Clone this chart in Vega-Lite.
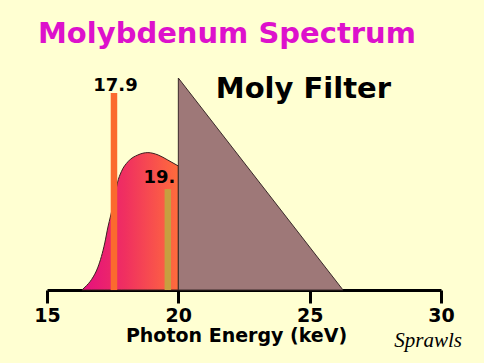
{
  "$schema": "https://vega.github.io/schema/vega-lite/v6.json",
  "width": 394,
  "height": 212,
  "autosize": "none",
  "padding": {"left": 47, "top": 78, "right": 43, "bottom": 73},
  "background": "#FFFFD2",
  "title": {
    "text": "Molybdenum Spectrum",
    "font": "DejaVu Sans",
    "fontWeight": "bold",
    "fontSize": 29,
    "color": "#DD11CC",
    "anchor": "start",
    "frame": "group",
    "dx": -9,
    "offset": 3,
    "baseline": "alphabetic"
  },
  "config": {"view": {"stroke": null}},
  "datasets": {
    "spectrum": [
      {"energy": 16.33, "intensity": 0},
      {"energy": 16.45, "intensity": 1.4},
      {"energy": 16.7, "intensity": 5},
      {"energy": 16.94, "intensity": 10.8},
      {"energy": 17.2, "intensity": 22.2},
      {"energy": 17.32, "intensity": 29.7},
      {"energy": 17.42, "intensity": 34.9},
      {"energy": 17.55, "intensity": 42},
      {"energy": 17.68, "intensity": 50.5},
      {"energy": 17.83, "intensity": 55.8},
      {"energy": 18.08, "intensity": 60.5},
      {"energy": 18.46, "intensity": 63.7},
      {"energy": 18.84, "intensity": 64.8},
      {"energy": 19.23, "intensity": 63.7},
      {"energy": 19.6, "intensity": 61.3},
      {"energy": 20.0, "intensity": 58.5}
    ],
    "filter": [
      {"energy": 20, "intensity": 100, "label": "Moly Filter"},
      {"energy": 26.27, "intensity": 0, "label": "Moly Filter"}
    ],
    "lines": [
      {"energy": 17.55, "intensity": 92.9, "label": "17.9"},
      {"energy": 19.6, "intensity": 47.6, "label": "19."}
    ],
    "credit": [
      {"energy": 30, "intensity": 0, "credit": "Sprawls"}
    ]
  },
  "encoding": {
    "x": {
      "field": "energy",
      "type": "quantitative",
      "scale": {"domain": [15, 30], "nice": false, "zero": false},
      "axis": {
        "title": "Photon Energy (keV)",
        "values": [15, 20, 25, 30],
        "grid": false,
        "domainColor": "#000000",
        "domainWidth": 3,
        "tickColor": "#000000",
        "tickWidth": 3,
        "tickSize": 13,
        "labelFont": "DejaVu Sans",
        "labelFontWeight": "bold",
        "labelFontSize": 19,
        "labelColor": "#000000",
        "labelPadding": 3,
        "labelFlush": false,
        "titleFont": "DejaVu Sans",
        "titleFontWeight": "bold",
        "titleFontSize": 19,
        "titleColor": "#000000",
        "titlePadding": 1,
        "titleX": 189
      }
    },
    "y": {
      "field": "intensity",
      "type": "quantitative",
      "scale": {"domain": [0, 100], "nice": false},
      "axis": null
    }
  },
  "layer": [
    {
      "data": {"name": "spectrum"},
      "mark": {
        "type": "area",
        "interpolate": "monotone",
        "stroke": "#3a2020",
        "strokeWidth": 1,
        "color": {
          "gradient": "linear",
          "x1": 0, "y1": 0, "x2": 1, "y2": 0,
          "stops": [
            {"offset": 0, "color": "#E40F80"},
            {"offset": 0.45, "color": "#F03060"},
            {"offset": 1, "color": "#FF6C3C"}
          ]
        }
      }
    },
    {
      "data": {"name": "filter"},
      "mark": {"type": "area", "color": "#9E7878", "stroke": "#3a2a2a", "strokeWidth": 1}
    },
    {
      "data": {"name": "lines"},
      "mark": {"type": "rule", "strokeWidth": 6.5},
      "encoding": {
        "y2": {"datum": 0},
        "color": {
          "field": "label",
          "type": "nominal",
          "scale": {"domain": ["17.9", "19."], "range": ["#FB6A2E", "#C6A040"]},
          "legend": null
        }
      }
    },
    {
      "data": {"name": "lines"},
      "transform": [{"filter": "datum.label == '17.9'"}],
      "mark": {"type": "text", "font": "DejaVu Sans", "fontWeight": "bold", "fontSize": 18, "color": "#000000", "align": "center", "baseline": "alphabetic", "dx": 1.5, "dy": -2},
      "encoding": {"text": {"field": "label"}}
    },
    {
      "data": {"name": "lines"},
      "transform": [{"filter": "datum.label == '19.'"}],
      "mark": {"type": "text", "font": "DejaVu Sans", "fontWeight": "bold", "fontSize": 18, "color": "#000000", "align": "right", "baseline": "alphabetic", "dx": 7.5, "dy": -6},
      "encoding": {"text": {"field": "label"}}
    },
    {
      "data": {"name": "filter"},
      "transform": [{"filter": "datum.intensity == 100"}],
      "mark": {"type": "text", "font": "DejaVu Sans", "fontWeight": "bold", "fontSize": 29, "color": "#000000", "align": "left", "baseline": "alphabetic", "dx": 37.5, "dy": 20},
      "encoding": {"text": {"field": "label"}}
    },
    {
      "data": {"name": "credit"},
      "mark": {"type": "text", "font": "Liberation Serif", "fontStyle": "italic", "fontSize": 21, "color": "#000000", "align": "right", "baseline": "alphabetic", "dx": 21, "dy": 57},
      "encoding": {"text": {"field": "credit"}}
    }
  ]
}
